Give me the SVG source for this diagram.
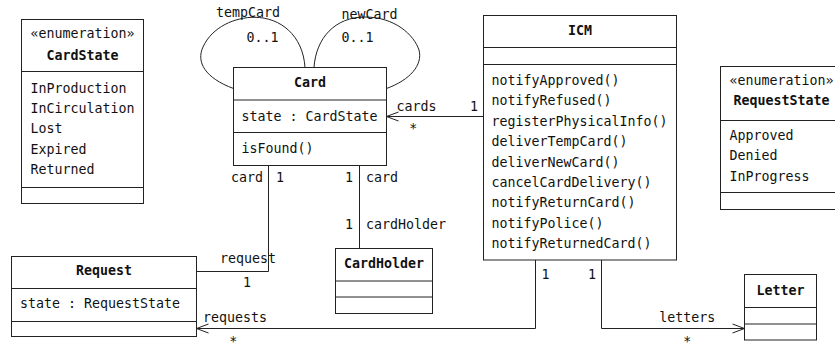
<svg xmlns="http://www.w3.org/2000/svg" width="835" height="343" viewBox="0 0 835 343">
<style>
  .box { fill: #ffffff; stroke: #222222; stroke-width: 1; }
  .sep { stroke: #222222; stroke-width: 1; fill: none; }
  .t { font-family: "DejaVu Sans Mono", "Liberation Mono", monospace; font-size: 13.3px; fill: #111111; }
  .b { font-weight: bold; text-anchor: middle; }
  .c { text-anchor: middle; }
  .line { fill: none; stroke: #222222; stroke-width: 1; }
</style>
<defs>
  <marker id="open" markerUnits="userSpaceOnUse" viewBox="-13 -6 14 12" refX="0" refY="0" markerWidth="14" markerHeight="12" orient="auto">
    <path d="M-12,-4.5 L0,0 L-12,4.5" fill="none" stroke="#222222" stroke-width="1"/>
  </marker>
</defs>
<rect width="835" height="343" fill="#ffffff"/>

<g id="connectors">
  <path class="line" d="M233.5,88.5 C205,78 196,62 203,47 C212,27 235,17 255,17.3 C280,17.5 303,35 305,67.5"/>
  <path class="line" d="M314,67.5 C316,38 335,17 365,17 C395,17 414,35 419,50 C423,65 410,80 386.5,88.5"/>
  <path class="line" d="M483.5,116.5 L386.5,116.5" marker-end="url(#open)"/>
  <path class="line" d="M268.5,165.5 L268.5,271.5 L196.5,271.5"/>
  <path class="line" d="M359.5,165.5 L359.5,248.5"/>
  <path class="line" d="M535.5,260 L535.5,328.5 L196.5,328.5" marker-end="url(#open)"/>
  <path class="line" d="M601.5,260 L601.5,328.5 L744.5,328.5" marker-end="url(#open)"/>
  <g class="t">
    <text x="216" y="16.5">tempCard</text>
    <text x="246.5" y="41.5">0..1</text>
    <text x="341.5" y="18.5">newCard</text>
    <text x="341.5" y="41.5">0..1</text>
    <text x="396.5" y="110.5">cards</text>
    <text x="470" y="110.5">1</text>
    <text x="409.3" y="133">*</text>
    <text x="231" y="182">card</text>
    <text x="276" y="182">1</text>
    <text x="345" y="182">1</text>
    <text x="366" y="182">card</text>
    <text x="345" y="228.5">1</text>
    <text x="366" y="228.5">cardHolder</text>
    <text x="220" y="262.5">request</text>
    <text x="243" y="287">1</text>
    <text x="203" y="321.7">requests</text>
    <text x="229.3" y="345.5">*</text>
    <text x="541.5" y="279.3">1</text>
    <text x="588" y="279.3">1</text>
    <text x="659.3" y="321.7">letters</text>
    <text x="683.3" y="345.5">*</text>
  </g>
</g>

<g id="CardState">
  <rect class="box" x="21.5" y="19.5" width="122" height="184"/>
  <path class="sep" d="M21.5,71.5 H143.5 M21.5,187.5 H143.5"/>
  <text class="t c" x="82.5" y="38">«enumeration»</text>
  <text class="t b" x="82.5" y="60">CardState</text>
  <text class="t" x="30.5" y="92.7">InProduction</text>
  <text class="t" x="30.5" y="113">InCirculation</text>
  <text class="t" x="30.5" y="133.3">Lost</text>
  <text class="t" x="30.5" y="153.7">Expired</text>
  <text class="t" x="30.5" y="174">Returned</text>
</g>

<g id="Card">
  <rect class="box" x="233.5" y="67.5" width="153" height="98"/>
  <path class="sep" d="M233.5,100 H386.5 M233.5,132.5 H386.5"/>
  <text class="t b" x="310" y="87.3">Card</text>
  <text class="t" x="241.5" y="120.7">state : CardState</text>
  <text class="t" x="241.5" y="153.3">isFound()</text>
</g>

<g id="ICM">
  <rect class="box" x="483.5" y="15.5" width="193" height="244.5"/>
  <path class="sep" d="M483.5,47.5 H676.5 M483.5,64.5 H676.5"/>
  <text class="t b" x="580" y="35">ICM</text>
  <text class="t" x="491.5" y="85">notifyApproved()</text>
  <text class="t" x="491.5" y="105.4">notifyRefused()</text>
  <text class="t" x="491.5" y="125.8">registerPhysicalInfo()</text>
  <text class="t" x="491.5" y="146.2">deliverTempCard()</text>
  <text class="t" x="491.5" y="166.6">deliverNewCard()</text>
  <text class="t" x="491.5" y="187">cancelCardDelivery()</text>
  <text class="t" x="491.5" y="207.4">notifyReturnCard()</text>
  <text class="t" x="491.5" y="227.8">notifyPolice()</text>
  <text class="t" x="491.5" y="248.2">notifyReturnedCard()</text>
</g>

<g id="RequestState">
  <rect class="box" x="720.5" y="66.5" width="122" height="143"/>
  <path class="sep" d="M720.5,120.5 H842.5 M720.5,192.5 H842.5"/>
  <text class="t c" x="781.5" y="85">«enumeration»</text>
  <text class="t b" x="781.5" y="105">RequestState</text>
  <text class="t" x="729.5" y="140">Approved</text>
  <text class="t" x="729.5" y="160.3">Denied</text>
  <text class="t" x="729.5" y="180.6">InProgress</text>
</g>

<g id="Request">
  <rect class="box" x="11.5" y="256.5" width="185" height="80"/>
  <path class="sep" d="M11.5,288.5 H196.5 M11.5,321.5 H196.5"/>
  <text class="t b" x="104" y="275">Request</text>
  <text class="t" x="20" y="308.3">state : RequestState</text>
</g>

<g id="CardHolder">
  <rect class="box" x="335.5" y="248.5" width="97" height="65"/>
  <path class="sep" d="M335.5,281 H432.5 M335.5,297 H432.5"/>
  <text class="t b" x="384" y="268.3">CardHolder</text>
</g>

<g id="Letter">
  <rect class="box" x="744.5" y="274.5" width="72" height="65.5"/>
  <path class="sep" d="M744.5,307.5 H816.5 M744.5,324 H816.5"/>
  <text class="t b" x="780.5" y="295">Letter</text>
</g>
</svg>
